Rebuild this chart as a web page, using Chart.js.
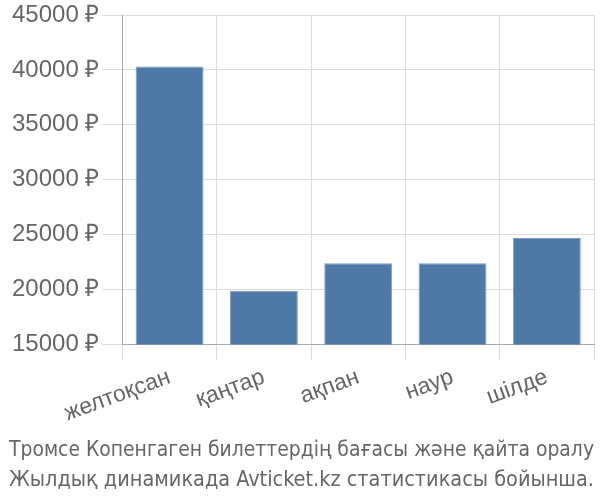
<!DOCTYPE html>
<html>
<head>
<meta charset="utf-8">
<script src="https://cdn.jsdelivr.net/npm/chart.js@4"></script>
<style>
  body { margin: 0; background: #fff; }
  #wrap { width: 600px; height: 500px; }
</style>
</head>
<body>
<div id="wrap"><canvas id="chart" width="600" height="500"></canvas></div>
<script>
const months = ['желтоқсан', 'қаңтар', 'ақпан', 'наур', 'шілде'];
const prices = [40300, 19900, 22400, 22400, 24700];
const titleLines = [
    'Тромсе Копенгаген билеттердің бағасы және қайта оралу',
    'Жылдық динамикада Avticket.kz статистикасы бойынша.'
];

const ctx = document.getElementById('chart');
new Chart(ctx, {
    type: 'bar',
    data: {
        labels: months,
        datasets: [{
            data: prices,
            backgroundColor: '#4e79a7',
            borderColor: '#7d9cc0',
            borderWidth: 1
        }]
    },
    options: {
        responsive: false,
        animation: false,
        layout: { padding: { top: 1, right: 6, left: 9, bottom: 0 } },
        plugins: {
            legend: { display: false },
            tooltip: { enabled: false },
            title: {
                display: true,
                position: 'bottom',
                text: titleLines,
                color: '#666',
                font: { family: "'DejaVu Sans Condensed', 'Liberation Sans'", style: 'condensed', size: 22, weight: 'normal', lineHeight: 1.4 },
                padding: { top: 4, bottom: 4 }
            }
        },
        scales: {
            x: {
                grid: { color: '#ddd', tickLength: 16 },
                border: { color: '#aaa' },
                ticks: {
                    color: '#666',
                    font: { family: 'Liberation Sans', size: 23 },
                    minRotation: 20,
                    maxRotation: 20
                }
            },
            y: {
                min: 15000,
                max: 45000,
                grid: { color: '#ddd', tickLength: 20 },
                border: { color: '#aaa' },
                ticks: {
                    stepSize: 5000,
                    color: '#666',
                    font: { family: 'Liberation Sans', size: 24, lineHeight: 1.0 },
                    callback: v => v + ' ₽'
                }
            }
        }
    }
});
</script>
</body>
</html>
